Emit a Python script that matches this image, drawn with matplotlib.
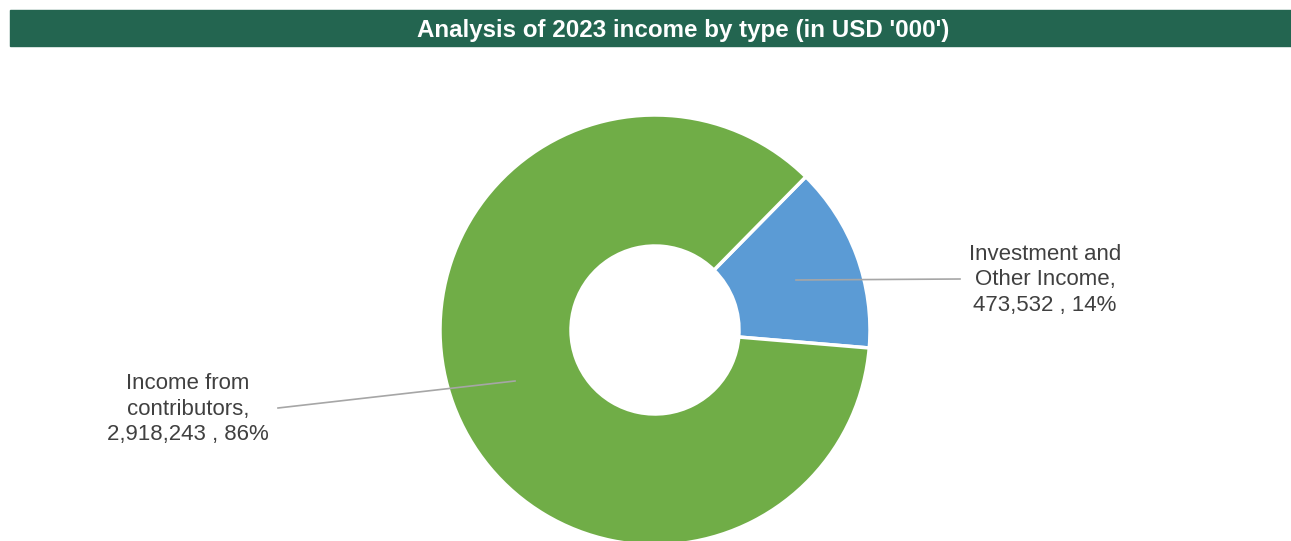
import matplotlib
matplotlib.use("Agg")
import matplotlib.pyplot as plt
from matplotlib.patches import Rectangle

# Income breakdown (USD '000)
categories = ["Investment and\nOther Income", "Income from\ncontributors"]
values = [473532, 2918243]
percent_labels = ["14%", "86%"]
colors = ["#5B9BD5", "#70AD47"]
title = "Analysis of 2023 income by type (in USD '000')"

W, H = 1291, 541
fig = plt.figure(figsize=(W / 100, H / 100), dpi=100)
ax = fig.add_axes([0, 0, 1, 1])

plt.rcParams["font.family"] = ["Liberation Sans", "DejaVu Sans"]
fams = ["Liberation Sans", "DejaVu Sans"]

# Title banner
ax.add_patch(Rectangle((10, H - 46), W - 10, 36, color="#236550", zorder=1))
ax.text(683, H - 30, title, color="white", fontsize=17.4, fontweight="bold",
        ha="center", va="center", family=fams, zorder=2)

# Donut
cx, cy, r_out, r_in = 655, H - 330, 215, 84
start = -4.8
wedges, _ = ax.pie(values, colors=colors, startangle=start, counterclock=True,
                   center=(cx, cy), radius=r_out, frame=True,
                   wedgeprops=dict(width=r_out - r_in, edgecolor="white", linewidth=2.5))
ax.set_xlim(0, W)
ax.set_ylim(0, H)
ax.set_aspect("equal")
ax.axis("off")

label_color = "#404040"
leader_color = "#A6A6A6"

# Labels with leader lines
lab_pos = [(1045, H - 280), (188, H - 409)]
lines = [((796, H - 280), (960, H - 279)), ((515, H - 381), (278, H - 408))]
for cat, val, pct, (tx, ty), (p0, p1) in zip(categories, values, percent_labels, lab_pos, lines):
    ax.plot([p0[0], p1[0]], [p0[1], p1[1]], color=leader_color, lw=1.2, zorder=5)
    ax.text(tx, ty, f"{cat},\n{val:,} , {pct}", ha="center", va="center",
            fontsize=16, color=label_color, linespacing=1.27, family=fams)

fig.savefig("out.png", dpi=100)
